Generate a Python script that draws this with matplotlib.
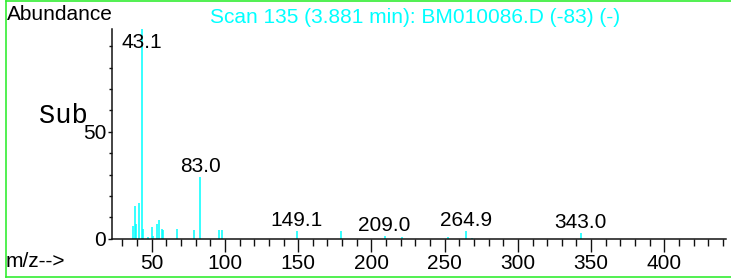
import matplotlib
matplotlib.use("Agg")
import matplotlib.pyplot as plt
from matplotlib.ticker import MultipleLocator, FixedLocator
from matplotlib.lines import Line2D

plt.rcParams['font.family'] = ['Liberation Sans', 'DejaVu Sans']

# spectrum (m/z, relative abundance)
mz = [37.5, 38.4, 39.3, 41.0, 43.1, 44.1, 47.3, 50.0, 51.0, 53.4, 55.1, 56.8,
      57.7, 67.2, 78.8, 83.0, 96.2, 97.8, 149.1, 179.2, 209.0, 221.1, 252.6,
      264.9, 268.7, 343.0]
abund = [5.8, 15.4, 7.0, 16.7, 100.0, 4.5, 0.9, 5.7, 1.4, 6.9, 8.8, 4.5,
         4.2, 4.5, 4.1, 28.8, 4.2, 4.2, 3.7, 3.7, 1.2, 0.8, 0.8,
         3.7, 0.5, 2.7]

peak_labels = ["43.1", "83.0", "149.1", "209.0", "264.9", "343.0"]
peak_mz = [43.1, 83.0, 149.1, 209.0, 264.9, 343.0]

title = "Scan 135 (3.881 min): BM010086.D (-83) (-)"
CYAN = "#00FFFF"
W, H = 731, 279
XMIN, XMAX = 22.7, 441.9
YMAX = 98.0

fig = plt.figure(figsize=(W / 100, H / 100), dpi=100)
ax = fig.add_axes([111.7 / W, 1 - 238.7 / H, (725.7 - 111.7) / W, (238.7 - 29) / H])

ax.vlines(mz, 0, abund, colors=CYAN, linewidth=1.1, zorder=1)
ax.set_xlim(XMIN, XMAX)
ax.set_ylim(0, YMAX)

for s in ['top', 'right']:
    ax.spines[s].set_visible(False)
for s in ['left', 'bottom']:
    ax.spines[s].set_color('#111111')
    ax.spines[s].set_linewidth(1.1)

ax.set_xticks([50, 100, 150, 200, 250, 300, 350, 400])
ax.xaxis.set_minor_locator(MultipleLocator(10))
ax.yaxis.set_major_locator(FixedLocator([0, 50]))
ax.yaxis.set_minor_locator(MultipleLocator(10))

ax.tick_params(axis='x', which='major', length=9.4, width=1.0, pad=1.5,
               labelsize=15, color='#111111')
ax.tick_params(axis='x', which='minor', length=5, width=1.0, color='#111111')
ax.tick_params(axis='y', which='major', length=3, width=1.0, pad=1,
               labelsize=15, color='#111111')
ax.tick_params(axis='y', which='minor', length=2, width=1.0, color='#111111')

lookup = dict(zip(mz, abund))
for lab, m in zip(peak_labels, peak_mz):
    h = lookup[m]
    if h >= YMAX:
        ax.annotate(lab, (m, YMAX), xytext=(0, -13.5), textcoords='offset points',
                    ha='center', va='baseline', fontsize=15, annotation_clip=False)
    else:
        ax.annotate(lab, (m, h), xytext=(0, 3.8), textcoords='offset points',
                    ha='center', va='baseline', fontsize=15, annotation_clip=False)


def px(x, y):
    return x / W, 1 - y / H


fig.text(*px(7, 20), "Abundance", fontsize=15, va='baseline', ha='left')
fig.text(*px(210, 23), title, fontsize=15, va='baseline', ha='left', color=CYAN)
fig.text(*px(6, 267), "m/z-->", fontsize=15, va='baseline', ha='left')
fig.text(*px(39, 123), "Sub", fontsize=19.5, va='baseline', ha='left',
         family=['Liberation Mono', 'DejaVu Sans Mono'])

# green frame round the plot
green = "#33EE33"
fig.add_artist(Line2D([5.5 / W, 5.5 / W], [1 - 0.8 / H, 1 - 276.7 / H], color=green, lw=1.2))
fig.add_artist(Line2D([5.5 / W, 1], [1 - 0.8 / H, 1 - 0.8 / H], color=green, lw=1.2))
fig.add_artist(Line2D([5.5 / W, 1], [1 - 276.7 / H, 1 - 276.7 / H], color=green, lw=1.2))

fig.savefig("out.png", dpi=100)
